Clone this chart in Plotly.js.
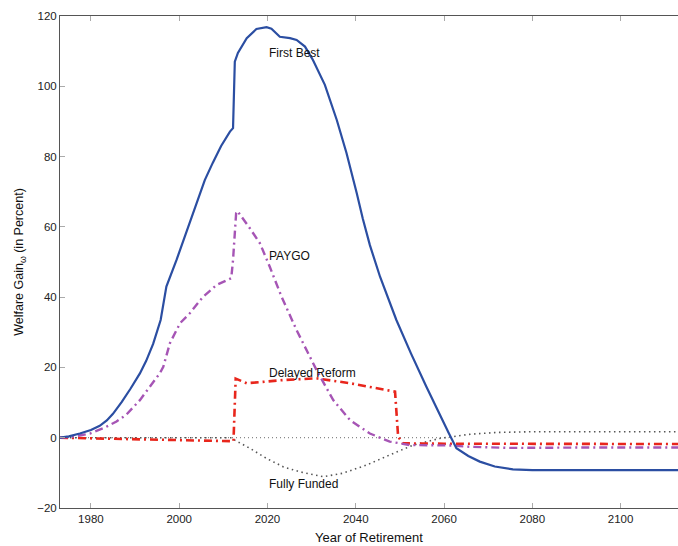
<!DOCTYPE html>
<html>
<head>
<meta charset="utf-8">
<script src="https://cdn.plot.ly/plotly-3.0.1.min.js"></script>
<style>html,body{margin:0;padding:0;background:#fff;}#chart{width:678px;height:546px;}</style>
</head>
<body>
<div id="chart"></div>
<script>
// First Best
const fbYear = [1973, 1975, 1977.5, 1980, 1982, 1983.6, 1985, 1987, 1989, 1991.1, 1992.5, 1994.1, 1995.8, 1996.4, 1997.1, 1999.4, 2002.4, 2005.8, 2007.6, 2009.5, 2011.5, 2012.2, 2012.6, 2013.3, 2015.3, 2017.5, 2019.8, 2020.9, 2022.8, 2025.1, 2026.6, 2028.5, 2030.3, 2033, 2035.7, 2037.9, 2040.2, 2041.6, 2043.2, 2045.5, 2049.2, 2052.5, 2056, 2059, 2061, 2062.8, 2065.5, 2068.1, 2071.5, 2075.6, 2080, 2086, 2100, 2113];
const fbVal  = [0, 0.4, 1.2, 2.2, 3.4, 4.9, 6.8, 10.2, 14, 18.3, 21.8, 26.7, 33.5, 38.2, 43, 50.6, 61, 73.3, 78.2, 83, 87.1, 88.1, 107, 109.5, 113.7, 116.3, 116.8, 116.4, 114.1, 113.7, 113.2, 111.3, 107.5, 100.4, 90.4, 81, 69.7, 62.3, 54.8, 45.8, 33.5, 24, 14.5, 6.5, 1.5, -3, -5.2, -6.8, -8.2, -9, -9.2, -9.2, -9.2, -9.2];

// PAYGO
const pgYear = [1973, 1976, 1979.8, 1983, 1985.8, 1988, 1991.1, 1995.6, 1996.4, 1997.9, 2000.2, 2002.4, 2005.4, 2008.5, 2011.8, 2012.2, 2012.9, 2013.2, 2016, 2018.3, 2020.5, 2023.2, 2026.6, 2031.1, 2034.9, 2038.7, 2043.2, 2047.7, 2052.3, 2057, 2061.3, 2066, 2075, 2090, 2113];
const pgVal  = [0, 0.3, 1.2, 2.8, 4.6, 6.5, 10.7, 18.3, 20.2, 26.9, 32.6, 35.4, 40.1, 43.5, 45.4, 50.6, 63.9, 64.5, 59.6, 55.3, 48.7, 40.1, 30.6, 19.3, 10.7, 5, 1.2, -1.1, -2.1, -2.2, -2.2, -2.6, -2.9, -2.8, -2.8];

// Delayed Reform
const drYear = [1973, 1990, 2000, 2012.3, 2012.8, 2015.3, 2023.6, 2031.1, 2038.7, 2048.9, 2049.6, 2050.7, 2060, 2080, 2113];
const drVal  = [0, -0.4, -0.7, -1.0, 16.8, 15.5, 16.4, 16.9, 15.5, 13.1, 0.3, -1.6, -1.7, -1.8, -1.8];

// Fully Funded
const ffYear = [1973, 2000, 2012, 2012.6, 2016, 2019.8, 2023.6, 2027.3, 2032.6, 2037.1, 2042.4, 2047.7, 2053, 2059, 2062, 2066, 2072, 2080, 2095, 2113];
const ffVal  = [0, 0, 0, -0.7, -3, -5.9, -8.3, -9.7, -11.1, -10.1, -7.8, -4.9, -2.1, -0.2, 0.4, 1.0, 1.5, 1.7, 1.7, 1.7];

// Zero reference line
const zeroYear = [1973, 2061];
const zeroVal  = [0, 0];

const labelNames = ['First Best', 'PAYGO', 'Delayed Reform', 'Fully Funded'];
const labelY = [109.4, 51.7, 18.5, -13.2];
const labelX = 2019.8;

const font = 'Liberation Sans, Arial, Helvetica, sans-serif';

const traces = [
  {x: zeroYear, y: zeroVal, mode: 'lines', line: {color: '#888', width: 1.2, dash: '1px,3px'}, hoverinfo: 'skip'},
  {x: ffYear, y: ffVal, mode: 'lines', line: {color: '#555', width: 1.6, dash: '1.5px,3.5px'}},
  {x: drYear, y: drVal, mode: 'lines', line: {color: '#e8261c', width: 2.6, dash: '8px,4px,2px,4px'}},
  {x: pgYear, y: pgVal, mode: 'lines', line: {color: '#a655b5', width: 2.4, dash: '8px,4px,2px,4px'}},
  {x: fbYear, y: fbVal, mode: 'lines', line: {color: '#2b4ea2', width: 2.2}}
];

const annotations = labelNames.map((t, i) => ({
  x: labelX, y: labelY[i], xref: 'x', yref: 'y', text: t, showarrow: false,
  xanchor: 'left', yanchor: 'middle', font: {family: font, size: 12, color: '#111'}
}));

const layout = {
  width: 678, height: 546,
  margin: {l: 60, r: 0, t: 16, b: 38},
  paper_bgcolor: '#fff', plot_bgcolor: '#fff',
  showlegend: false,
  font: {family: font, size: 12, color: '#222'},
  xaxis: {
    range: [1973, 2113], tick0: 1980, dtick: 20,
    ticks: 'inside', ticklen: 5, tickcolor: '#aaa', tickwidth: 1,
    showline: true, linecolor: '#555', linewidth: 1, mirror: 'allticks',
    showgrid: false, zeroline: false,
    tickfont: {family: font, size: 11.5, color: '#222'},
    title: {text: 'Year of Retirement', font: {family: font, size: 13, color: '#111'}, standoff: 9}
  },
  yaxis: {
    range: [-20, 120], tick0: -20, dtick: 20,
    ticks: 'inside', ticklen: 5, tickcolor: '#aaa', tickwidth: 1,
    showline: true, linecolor: '#555', linewidth: 1, mirror: false,
    showgrid: false, zeroline: false,
    tickfont: {family: font, size: 11.5, color: '#222'},
    title: {text: 'Welfare Gain<sub>ω</sub> (in Percent)', font: {family: font, size: 12.5, color: '#111'}, standoff: 10}
  },
  annotations: annotations
};

Plotly.newPlot('chart', traces, layout, {displayModeBar: false, staticPlot: true});
</script>
</body>
</html>
